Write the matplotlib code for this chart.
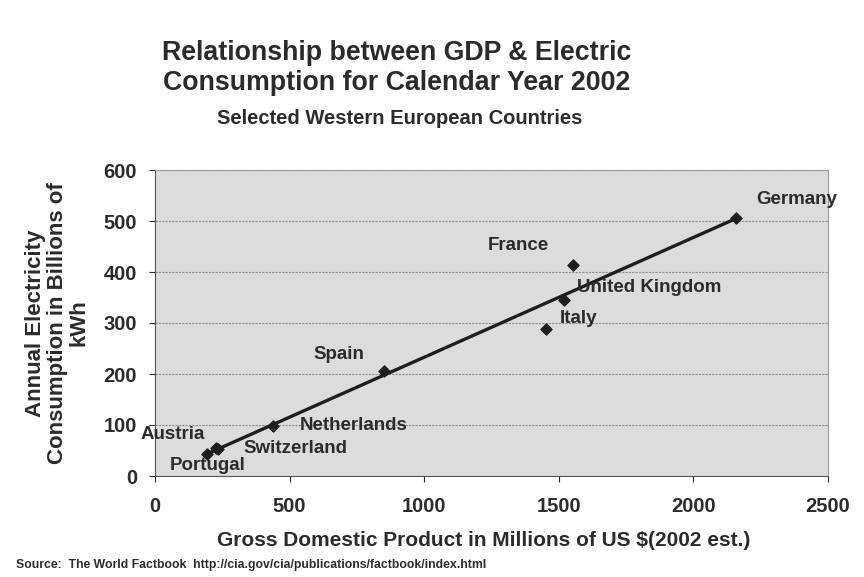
import numpy as np
import matplotlib.pyplot as plt

plt.rcParams['font.family'] = ['Liberation Sans', 'DejaVu Sans']
plt.rcParams['font.weight'] = 'bold'

# ------------------------------
# Data (2002 estimates)
# ------------------------------
countries = ['Germany', 'France', 'United Kingdom', 'Italy', 'Spain',
             'Netherlands', 'Switzerland', 'Austria', 'Portugal']
gdp = [2160, 1552, 1521, 1451, 852, 440, 234, 226, 195]          # billions US $
electricity = [506, 414, 346, 288, 206, 99, 52, 55, 43]          # billions kWh

x_ticks = [0, 500, 1000, 1500, 2000, 2500]
y_ticks = [0, 100, 200, 300, 400, 500, 600]

# label placement: (dx, dy) in points, horizontal alignment
label_pos = {
    'Germany': (14, 13, 'left'),
    'France': (-61, 14, 'left'),
    'United Kingdom': (9, 9, 'left'),
    'Italy': (10, 8, 'left'),
    'Spain': (-51, 12, 'left'),
    'Netherlands': (19, 0, 'left'),
    'Switzerland': (18, 1, 'left'),
    'Austria': (-8, 10, 'right'),
    'Portugal': (0, -8, 'center'),
}

text_col = '#2b2b2b'

fig = plt.figure(figsize=(8.64, 5.77), dpi=100)
ax = fig.add_axes([155 / 864, 101 / 577, 673 / 864, 306 / 577])
ax.set_facecolor('#dcdcdc')

# linear trend line through the points
coef = np.polyfit(gdp, electricity, 1)
xs = np.array([min(gdp), max(gdp)])
ax.plot(xs, np.polyval(coef, xs), color='#1e1e1e', lw=2.4, zorder=3)
ax.scatter(gdp, electricity, marker='D', s=32, color='#1e1e1e', zorder=4)

for name, gx, ey in zip(countries, gdp, electricity):
    dx, dy, ha = label_pos[name]
    ax.annotate(name, (gx, ey), xytext=(dx, dy), textcoords='offset points',
                ha=ha, va='center', fontsize=13.5, fontweight='bold',
                color=text_col, zorder=5)

ax.set_xlim(0, 2500)
ax.set_ylim(0, 600)
ax.set_xticks(x_ticks)
ax.set_yticks(y_ticks)
ax.tick_params(labelsize=14.5, colors=text_col, length=4, width=0.8)
ax.tick_params(axis='x', pad=11)
ax.tick_params(axis='y', pad=9)
for lbl in ax.get_xticklabels() + ax.get_yticklabels():
    lbl.set_fontweight('bold')
ax.yaxis.grid(True, color='#8f8f8f', lw=0.8, ls=(0, (2, 1)))
ax.set_axisbelow(True)
for side in ['left', 'bottom']:
    ax.spines[side].set_color('#555555')
for side in ['top', 'right']:
    ax.spines[side].set_color('#999999')

ax.set_xlabel('Gross Domestic Product in Millions of US $(2002 est.)',
              fontsize=15, fontweight='bold', color=text_col)
ax.xaxis.set_label_coords(0.488, -0.18)
ax.set_ylabel('Annual Electricity\nConsumption in Billions of\nkWh',
              fontsize=16, fontweight='bold', color=text_col, labelpad=10,
              linespacing=1.05)

fig.text(397 / 864, 1 - 68 / 577,
         'Relationship between GDP & Electric\nConsumption for Calendar Year 2002',
         ha='center', va='center', fontsize=19.3, fontweight='bold',
         color=text_col, linespacing=1.15)
fig.text(400 / 864, 1 - 119 / 577, 'Selected Western European Countries',
         ha='center', va='center', fontsize=14.5, fontweight='bold', color=text_col)
fig.text(16 / 864, 1 - 565 / 577,
         'Source:  The World Factbook  http://cia.gov/cia/publications/factbook/index.html',
         ha='left', va='center', fontsize=8.8, fontweight='bold', color=text_col)

fig.savefig('out.png', dpi=100)
